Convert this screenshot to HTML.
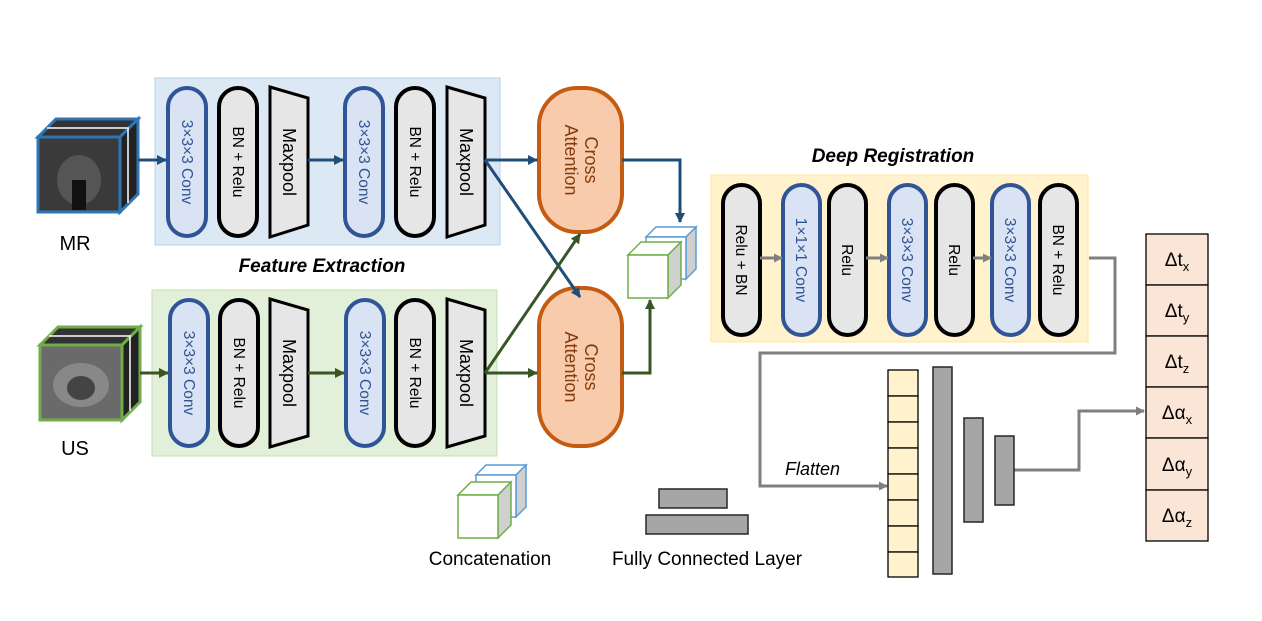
<!DOCTYPE html>
<html><head><meta charset="utf-8"><style>html,body{margin:0;padding:0;background:#fff}svg{display:block}text{font-family:"Liberation Sans",sans-serif}</style></head><body>
<svg width="1262" height="621" viewBox="0 0 1262 621" xmlns="http://www.w3.org/2000/svg">
<defs>
<marker id="ab" markerWidth="10" markerHeight="10" refX="9" refY="5" orient="auto" markerUnits="userSpaceOnUse"><path d="M0,0L10,5L0,10z" fill="#1f4e79"/></marker>
<marker id="ag" markerWidth="10" markerHeight="10" refX="9" refY="5" orient="auto" markerUnits="userSpaceOnUse"><path d="M0,0L10,5L0,10z" fill="#375623"/></marker>
<marker id="ay" markerWidth="9" markerHeight="9" refX="8" refY="4.5" orient="auto" markerUnits="userSpaceOnUse"><path d="M0,0L9,4.5L0,9z" fill="#7f7f7f"/></marker>
</defs>
<rect x="155" y="78" width="345" height="167" fill="#dde8f5" stroke="#b8cfe8"/>
<rect x="152" y="290" width="345" height="166" fill="#e2efd9" stroke="#c5e0b4"/>
<rect x="711" y="175" width="377" height="167" fill="#fff2cc" stroke="#ffe699"/>
<text x="322" y="272" font-size="19" font-weight="bold" font-style="italic" text-anchor="middle">Feature Extraction</text>
<text x="893" y="162" font-size="19" font-weight="bold" font-style="italic" text-anchor="middle">Deep Registration</text>
<g>
<polygon points="38,137 56,119 138,119 120,137" fill="#333" stroke="#2e75b6" stroke-width="3"/>
<polygon points="120,137 138,119 138,194 120,212" fill="#222" stroke="#2e75b6" stroke-width="3"/>
<line x1="128" y1="129" x2="128" y2="203" stroke="#fff" stroke-width="1.5"/>
<line x1="47" y1="128" x2="129" y2="128" stroke="#fff" stroke-width="1.5"/>
<rect x="38" y="137" width="82" height="75" fill="#3a3a3a" stroke="#2e75b6" stroke-width="3"/>
<ellipse cx="79" cy="180" rx="22" ry="25" fill="#555"/>
<rect x="72" y="180" width="14" height="30" fill="#111"/>
</g>
<text x="75" y="250" font-size="20" text-anchor="middle">MR</text>
<g>
<polygon points="40,345 58,327 140,327 122,345" fill="#333" stroke="#70ad47" stroke-width="3"/>
<polygon points="122,345 140,327 140,402 122,420" fill="#222" stroke="#70ad47" stroke-width="3"/>
<line x1="130" y1="337" x2="130" y2="411" stroke="#fff" stroke-width="1.5"/>
<line x1="49" y1="336" x2="131" y2="336" stroke="#fff" stroke-width="1.5"/>
<rect x="40" y="345" width="82" height="75" fill="#6a6a6a" stroke="#70ad47" stroke-width="3"/>
<ellipse cx="81" cy="385" rx="28" ry="22" fill="#888"/>
<ellipse cx="81" cy="388" rx="14" ry="12" fill="#444"/>
</g>
<text x="75" y="455" font-size="20" text-anchor="middle">US</text>
<g stroke-width="4">
<rect x="168" y="88" width="38" height="148" rx="19" fill="#dae3f3" stroke="#2f5597"/>
<rect x="219" y="88" width="38" height="148" rx="19" fill="#e7e6e6" stroke="#000"/>
<polygon points="270,87 308,98 308,225 270,237" fill="#e7e6e6" stroke="#000" stroke-width="3"/>
<rect x="345" y="88" width="38" height="148" rx="19" fill="#dae3f3" stroke="#2f5597"/>
<rect x="396" y="88" width="38" height="148" rx="19" fill="#e7e6e6" stroke="#000"/>
<polygon points="447,87 485,98 485,225 447,237" fill="#e7e6e6" stroke="#000" stroke-width="3"/>
</g>
<g stroke-width="4">
<rect x="170" y="300" width="38" height="146" rx="19" fill="#dae3f3" stroke="#2f5597"/>
<rect x="220" y="300" width="38" height="146" rx="19" fill="#e7e6e6" stroke="#000"/>
<polygon points="270,299 308,310 308,436 270,447" fill="#e7e6e6" stroke="#000" stroke-width="3"/>
<rect x="346" y="300" width="38" height="146" rx="19" fill="#dae3f3" stroke="#2f5597"/>
<rect x="396" y="300" width="38" height="146" rx="19" fill="#e7e6e6" stroke="#000"/>
<polygon points="447,299 485,310 485,436 447,447" fill="#e7e6e6" stroke="#000" stroke-width="3"/>
</g>
<g font-size="15.5" text-anchor="middle">
<text transform="translate(182,162) rotate(90)" fill="#2f5597">3×3×3 Conv</text>
<text transform="translate(233,162) rotate(90)">BN + Relu</text>
<text transform="translate(283,162) rotate(90)" font-size="18">Maxpool</text>
<text transform="translate(359,162) rotate(90)" fill="#2f5597">3×3×3 Conv</text>
<text transform="translate(410,162) rotate(90)">BN + Relu</text>
<text transform="translate(460,162) rotate(90)" font-size="18">Maxpool</text>
<text transform="translate(184,373) rotate(90)" fill="#2f5597">3×3×3 Conv</text>
<text transform="translate(234,373) rotate(90)">BN + Relu</text>
<text transform="translate(283,373) rotate(90)" font-size="18">Maxpool</text>
<text transform="translate(360,373) rotate(90)" fill="#2f5597">3×3×3 Conv</text>
<text transform="translate(410,373) rotate(90)">BN + Relu</text>
<text transform="translate(460,373) rotate(90)" font-size="18">Maxpool</text>
</g>
<rect x="539" y="88" width="83" height="144" rx="38" fill="#f8cbad" stroke="#c55a11" stroke-width="4"/>
<rect x="539" y="288" width="83" height="158" rx="38" fill="#f8cbad" stroke="#c55a11" stroke-width="4"/>
<g font-size="18" text-anchor="middle" fill="#843c0c">
<text transform="translate(580,160) rotate(90)" y="-5">Cross</text>
<text transform="translate(580,160) rotate(90)" y="15">Attention</text>
<text transform="translate(580,367) rotate(90)" y="-5">Cross</text>
<text transform="translate(580,367) rotate(90)" y="15">Attention</text>
</g>
<g stroke="#1f4e79" stroke-width="3" fill="none" marker-end="url(#ab)">
<line x1="138" y1="160" x2="166" y2="160"/>
<line x1="308" y1="160" x2="343" y2="160"/>
<line x1="485" y1="160" x2="537" y2="160"/>
<line x1="485" y1="160" x2="580" y2="297"/>
<polyline points="622,160 680,160 680,222"/>
</g>
<g stroke="#375623" stroke-width="3" fill="none" marker-end="url(#ag)">
<line x1="140" y1="373" x2="168" y2="373"/>
<line x1="308" y1="373" x2="344" y2="373"/>
<line x1="485" y1="373" x2="537" y2="373"/>
<line x1="485" y1="373" x2="580" y2="234"/>
<polyline points="622,373 650,373 650,300"/>
</g>
<g stroke-width="1.5">
<polygon points="646,237 656,227 696,227 686,237" fill="#fff" stroke="#5b9bd5"/>
<polygon points="686,237 696,227 696,269 686,279" fill="#d0d0d0" stroke="#5b9bd5"/>
<rect x="646" y="237" width="40" height="42" fill="#fff" stroke="#5b9bd5"/>
<polygon points="628,255 641,242 681,242 668,255" fill="#fff" stroke="#70ad47"/>
<polygon points="668,255 681,242 681,285 668,298" fill="#d0d0d0" stroke="#70ad47"/>
<rect x="628" y="255" width="40" height="43" fill="#fff" stroke="#70ad47"/>
</g>
<g stroke-width="4">
<rect x="723" y="185" width="37" height="150" rx="18.5" fill="#e7e6e6" stroke="#000"/>
<rect x="783" y="185" width="37" height="150" rx="18.5" fill="#dae3f3" stroke="#2f5597"/>
<rect x="829" y="185" width="37" height="150" rx="18.5" fill="#e7e6e6" stroke="#000"/>
<rect x="889" y="185" width="37" height="150" rx="18.5" fill="#dae3f3" stroke="#2f5597"/>
<rect x="936" y="185" width="37" height="150" rx="18.5" fill="#e7e6e6" stroke="#000"/>
<rect x="992" y="185" width="37" height="150" rx="18.5" fill="#dae3f3" stroke="#2f5597"/>
<rect x="1040" y="185" width="37" height="150" rx="18.5" fill="#e7e6e6" stroke="#000"/>
</g>
<g font-size="15.5" text-anchor="middle">
<text transform="translate(736,260) rotate(90)">Relu + BN</text>
<text transform="translate(796,260) rotate(90)" fill="#2f5597">1×1×1 Conv</text>
<text transform="translate(842,260) rotate(90)">Relu</text>
<text transform="translate(902,260) rotate(90)" fill="#2f5597">3×3×3 Conv</text>
<text transform="translate(949,260) rotate(90)">Relu</text>
<text transform="translate(1005,260) rotate(90)" fill="#2f5597">3×3×3 Conv</text>
<text transform="translate(1053,260) rotate(90)">BN + Relu</text>
</g>
<g stroke="#7f7f7f" stroke-width="3" fill="none" marker-end="url(#ay)">
<line x1="760" y1="258" x2="782" y2="258"/>
<line x1="866" y1="258" x2="888" y2="258"/>
<line x1="973" y1="258" x2="991" y2="258"/>
<polyline points="1089,258 1115,258 1115,353 760,353 760,486 887,486"/>
<polyline points="1014,470 1079,470 1079,411 1144,411"/>
</g>
<text x="785" y="475" font-size="18" font-style="italic">Flatten</text>
<g fill="#fff2cc" stroke="#000" stroke-width="1.3">
<rect x="888" y="370" width="30" height="26"/><rect x="888" y="396" width="30" height="26"/>
<rect x="888" y="422" width="30" height="26"/><rect x="888" y="448" width="30" height="26"/>
<rect x="888" y="474" width="30" height="26"/><rect x="888" y="500" width="30" height="26"/>
<rect x="888" y="526" width="30" height="26"/><rect x="888" y="552" width="30" height="25"/>
</g>
<g fill="#a6a6a6" stroke="#262626" stroke-width="1.5">
<rect x="933" y="367" width="19" height="207"/>
<rect x="964" y="418" width="19" height="104"/>
<rect x="995" y="436" width="19" height="69"/>
<rect x="659" y="489" width="68" height="19"/>
<rect x="646" y="515" width="102" height="19"/>
</g>
<g fill="#fbe5d6" stroke="#000" stroke-width="1.3">
<rect x="1146" y="234" width="62" height="51"/><rect x="1146" y="285" width="62" height="51"/>
<rect x="1146" y="336" width="62" height="51"/><rect x="1146" y="387" width="62" height="51"/>
<rect x="1146" y="438" width="62" height="52"/><rect x="1146" y="490" width="62" height="51"/>
</g>
<g font-size="19" text-anchor="middle">
<text x="1177" y="266">Δt<tspan font-size="13" dy="5">x</tspan></text>
<text x="1177" y="317">Δt<tspan font-size="13" dy="5">y</tspan></text>
<text x="1177" y="368">Δt<tspan font-size="13" dy="5">z</tspan></text>
<text x="1177" y="419">Δα<tspan font-size="13" dy="5">x</tspan></text>
<text x="1177" y="471">Δα<tspan font-size="13" dy="5">y</tspan></text>
<text x="1177" y="522">Δα<tspan font-size="13" dy="5">z</tspan></text>
</g>
<g stroke-width="1.5">
<polygon points="476,475 486,465 526,465 516,475" fill="#fff" stroke="#5b9bd5"/>
<polygon points="516,475 526,465 526,507 516,517" fill="#d0d0d0" stroke="#5b9bd5"/>
<rect x="476" y="475" width="40" height="42" fill="#fff" stroke="#5b9bd5"/>
<polygon points="458,495 471,482 511,482 498,495" fill="#fff" stroke="#70ad47"/>
<polygon points="498,495 511,482 511,525 498,538" fill="#d0d0d0" stroke="#70ad47"/>
<rect x="458" y="495" width="40" height="43" fill="#fff" stroke="#70ad47"/>
</g>
<text x="490" y="565" font-size="19" text-anchor="middle">Concatenation</text>
<text x="707" y="565" font-size="19" text-anchor="middle">Fully Connected Layer</text>
</svg>
</body></html>
